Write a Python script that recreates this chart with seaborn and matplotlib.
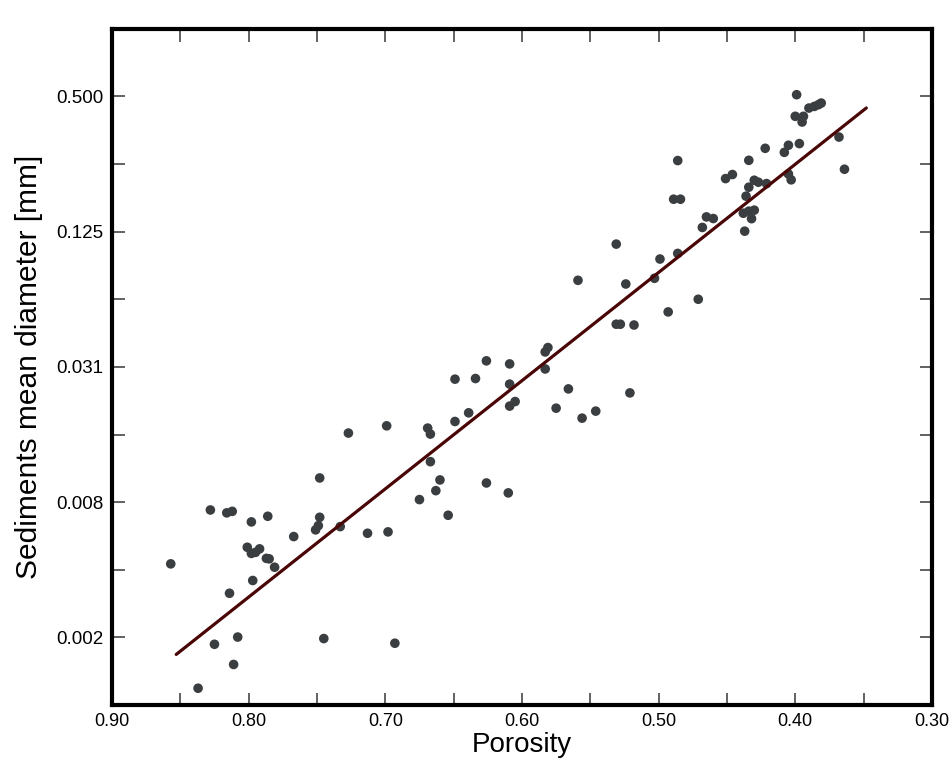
import numpy as np
import pandas as pd
import matplotlib
matplotlib.use("Agg")
import matplotlib.pyplot as plt
import matplotlib.ticker as mticker
from matplotlib import font_manager
import seaborn as sns

# ---- data ----
porosity = [0.857, 0.837, 0.828, 0.825, 0.816, 0.812, 0.814, 0.811, 0.808, 0.801,
            0.798, 0.795, 0.792, 0.798, 0.797, 0.786, 0.787, 0.785, 0.781, 0.767,
            0.748, 0.748, 0.749, 0.751, 0.745, 0.733, 0.727, 0.713, 0.699, 0.698,
            0.693, 0.675, 0.669, 0.667, 0.667, 0.663, 0.660, 0.654, 0.649, 0.649,
            0.639, 0.634, 0.626, 0.626, 0.609, 0.609, 0.609, 0.605, 0.610, 0.583,
            0.566, 0.575, 0.556, 0.546, 0.521, 0.583, 0.581, 0.559, 0.531, 0.524,
            0.531, 0.528, 0.518, 0.503, 0.499, 0.493, 0.486, 0.486, 0.489, 0.484,
            0.471, 0.468, 0.465, 0.460, 0.451, 0.446, 0.437, 0.438, 0.434, 0.432,
            0.430, 0.436, 0.434, 0.430, 0.427, 0.421, 0.434, 0.422, 0.408, 0.405,
            0.397, 0.405, 0.403, 0.399, 0.400, 0.394, 0.395, 0.390, 0.386, 0.383,
            0.381, 0.368, 0.364]
diameter = [0.00415, 0.00116, 0.00721, 0.00182, 0.00700, 0.00711, 0.00307, 0.00148, 0.00196, 0.00492,
            0.00462, 0.00467, 0.00484, 0.00638, 0.00350, 0.00676, 0.00439, 0.00437, 0.00401, 0.00549,
            0.01001, 0.00669, 0.00614, 0.00588, 0.00193, 0.00608, 0.01586, 0.00568, 0.01708, 0.00576,
            0.00184, 0.00802, 0.01669, 0.01570, 0.01183, 0.00879, 0.00981, 0.00683, 0.01786, 0.02756,
            0.01952, 0.02774, 0.00951, 0.03325, 0.03222, 0.02619, 0.02091, 0.02191, 0.00859, 0.03060,
            0.02494, 0.02047, 0.01848, 0.01986, 0.02394, 0.03643, 0.03810, 0.07590, 0.11000, 0.07310,
            0.04840, 0.04840, 0.04800, 0.07750, 0.09440, 0.05490, 0.10000, 0.25900, 0.17430, 0.17430,
            0.06250, 0.13050, 0.14540, 0.14300, 0.21530, 0.22450, 0.12560, 0.15100, 0.15420, 0.14280,
            0.15580, 0.17980, 0.19710, 0.21170, 0.20750, 0.20460, 0.25970, 0.29370, 0.28180, 0.30300,
            0.30820, 0.22570, 0.21260, 0.50870, 0.40770, 0.40770, 0.38450, 0.44370, 0.45130, 0.45940,
            0.46700, 0.32960, 0.23700]

fit_porosity = [0.853, 0.348]
fit_diameter = [0.00164, 0.444]

y_tick_values = [2**-1, 2**-3, 2**-5, 2**-7, 2**-9]
y_tick_labels = ["0.500", "0.125", "0.031", "0.008", "0.002"]
y_minor_values = [2**-2, 2**-4, 2**-6, 2**-8]
x_tick_values = [0.90, 0.80, 0.70, 0.60, 0.50, 0.40, 0.30]
x_minor_values = [0.85, 0.75, 0.65, 0.55, 0.45, 0.35]

df = pd.DataFrame({"Porosity": porosity, "Diameter": diameter})
fit = pd.DataFrame({"Porosity": fit_porosity, "Diameter": fit_diameter})

sns.set_theme(style="ticks")
available = {f.name for f in font_manager.fontManager.ttflist}
base_font = "Liberation Sans" if "Liberation Sans" in available else "DejaVu Sans"
plt.rcParams["font.family"] = [base_font, "DejaVu Sans"]
plt.rcParams["text.color"] = "black"
plt.rcParams["axes.labelcolor"] = "black"
plt.rcParams["xtick.labelcolor"] = "black"
plt.rcParams["ytick.labelcolor"] = "black"

fig = plt.figure(figsize=(9.49, 7.65), dpi=100)
ax = fig.add_axes([0.118, 0.0784, 0.864, 0.884])

sns.scatterplot(data=df, x="Porosity", y="Diameter", ax=ax, color="#3b3e40",
                s=48, edgecolor="none", linewidth=0, zorder=3)
sns.lineplot(data=fit, x="Porosity", y="Diameter", ax=ax, color="#4a0606",
             linewidth=2.3, zorder=4, sort=False)

ax.set_yscale("log", base=2)
ax.set_ylim(2**-10, 2**0)
ax.set_xlim(0.90, 0.30)

ax.yaxis.set_major_locator(mticker.FixedLocator(y_tick_values))
ax.yaxis.set_major_formatter(mticker.FixedFormatter(y_tick_labels))
ax.yaxis.set_minor_locator(mticker.FixedLocator(y_minor_values))
ax.yaxis.set_minor_formatter(mticker.NullFormatter())
ax.xaxis.set_major_locator(mticker.FixedLocator(x_tick_values))
ax.xaxis.set_major_formatter(mticker.FormatStrFormatter("%.2f"))
ax.xaxis.set_minor_locator(mticker.FixedLocator(x_minor_values))

ax.tick_params(which="both", direction="in", top=True, right=True,
               length=9, width=1.3, color="#555555", pad=6,
               labelcolor="black")
for lab in ax.get_xticklabels():
    lab.set_fontsize(13)
for lab in ax.get_yticklabels():
    lab.set_fontsize(13.5)

for sp in ax.spines.values():
    sp.set_linewidth(3)
    sp.set_color("black")

ax.set_xlabel("Porosity", fontsize=20, labelpad=1, color="black")
ax.set_ylabel("Sediments mean diameter [mm]", fontsize=21.5, labelpad=10,
              color="black")

fig.savefig("out.png", dpi=100, facecolor="white")
